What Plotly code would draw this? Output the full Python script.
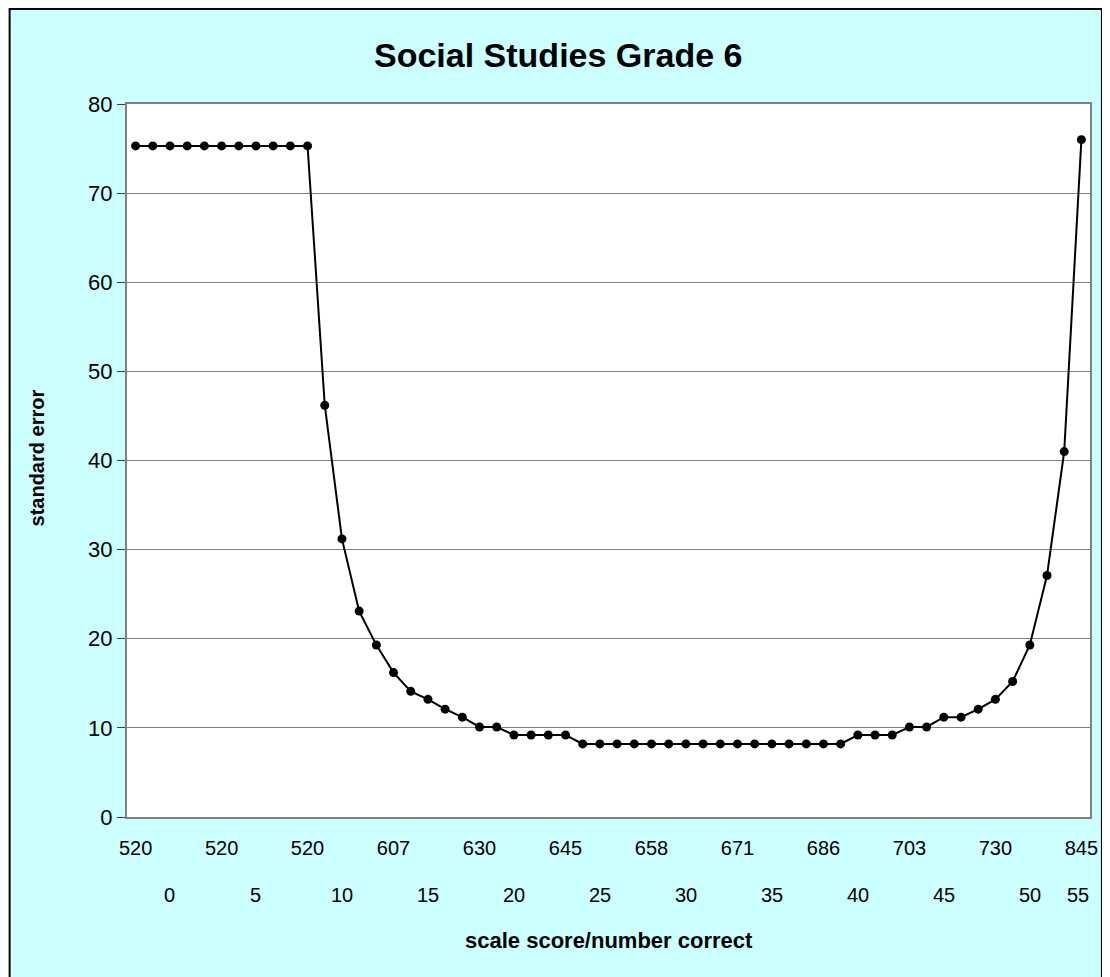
import plotly.graph_objects as go

title = "Social Studies Grade 6"
x_title = "scale score/number correct"
y_title = "standard error"

# standard error for each of the 56 score points
std_error = [75.3] * 11 + [46.2, 31.2, 23.1, 19.3, 16.2, 14.1, 13.2, 12.1, 11.2, 10.1, 10.1,
             9.2, 9.2, 9.2, 9.2] + [8.2] * 16 + [9.2, 9.2, 9.2, 10.1, 10.1, 11.2, 11.2,
             12.1, 13.2, 15.2, 19.3, 27.1, 41.0, 76.0]
points = list(range(len(std_error)))

# scale score tick labels (every 5th point)
scale_ticks = [0, 5, 10, 15, 20, 25, 30, 35, 40, 45, 50, 55]
scale_labels = ["520", "520", "520", "607", "630", "645", "658", "671", "686", "703", "730", "845"]
# number correct labels (second row)
number_correct = [0, 5, 10, 15, 20, 25, 30, 35, 40, 45, 50, 55]

# page is rendered with an 8px body offset; work in page pixels
OFF = 8
W, H = 1110 - OFF, 977 - OFF
plot_l, plot_r, plot_t, plot_b = 127, 1095, 104, 817   # page pixels of plot area
L, R = plot_l - OFF, W - (plot_r - OFF)
T, B = plot_t - OFF, H - (plot_b - OFF)
pw, ph = W - L - R, H - T - B


def px(x):
    return (x - OFF - L) / pw


def py(y):
    return (H - B - (y - OFF)) / ph


FONT = "Arial, Liberation Sans, sans-serif"

fig = go.Figure()
fig.add_trace(go.Scatter(
    x=points, y=std_error, mode="lines+markers",
    line=dict(color="black", width=2),
    marker=dict(color="black", size=9),
    showlegend=False, cliponaxis=False,
))


def ann(text, x, y, size, xref="paper", angle=0):
    return dict(text=text, xref=xref, yref="paper", x=x, y=y, xanchor="center", yanchor="middle",
                textangle=angle, showarrow=False, font=dict(family=FONT, size=size, color="black"))


annotations = [
    ann("<b>" + title + "</b>", px(560), py(55), 34),
    ann("<b>" + x_title + "</b>", px(612), py(940), 22),
    ann("<b>" + y_title + "</b>", px(37), py(458), 20, angle=-90),
]
for n in number_correct:
    annotations.append(ann(str(n), min(n + 2, 54.8), py(895), 20, xref="x"))

fig.update_layout(
    width=W, height=H,
    margin=dict(l=L, r=R, t=T, b=B),
    paper_bgcolor="white",
    plot_bgcolor="white",
    annotations=annotations,
    shapes=[
        dict(type="rect", xref="paper", yref="paper", layer="below",
             x0=px(9), x1=px(1107), y0=py(1000), y1=py(9),
             line=dict(color="black", width=2), fillcolor="#CCFFFF"),
        dict(type="rect", xref="paper", yref="paper", layer="below",
             x0=0, x1=1, y0=0, y1=1, line=dict(width=0), fillcolor="white"),
    ],
    xaxis=dict(range=[-0.5, 55.5], tickmode="array", tickvals=scale_ticks, ticktext=scale_labels,
               showgrid=False, zeroline=False, showline=True, linecolor="#808080", linewidth=2,
               mirror=True, ticks="", ticklabelstandoff=12,
               tickfont=dict(family=FONT, size=20, color="black")),
    yaxis=dict(range=[0, 80], dtick=10, showgrid=True, gridcolor="#808080", gridwidth=1,
               zeroline=False, showline=True, linecolor="#808080", linewidth=2, mirror=True,
               ticks="outside", ticklen=8, tickcolor="#404040",
               tickfont=dict(family=FONT, size=22, color="black")),
)

fig.write_html("out.html")
